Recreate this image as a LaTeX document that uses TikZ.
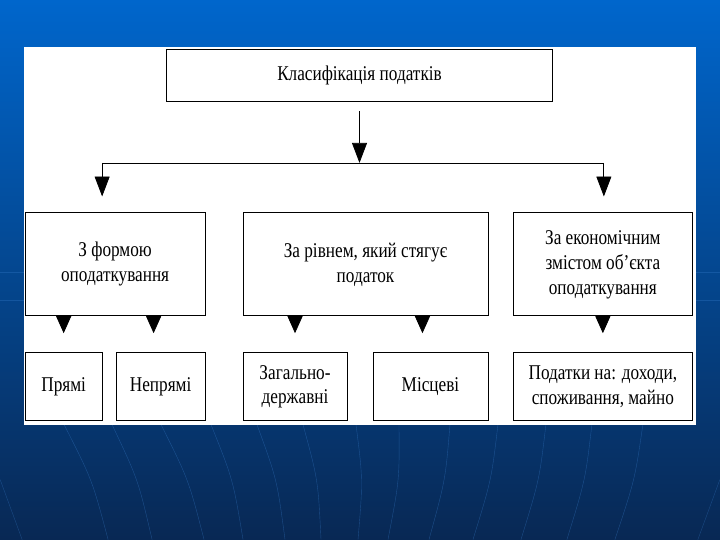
\documentclass[tikz,border=0pt]{standalone}
\usepackage{fontspec}
\setmainfont[FakeStretch=0.82]{Liberation Serif}
\usetikzlibrary{arrows.meta}

\definecolor{slidetop}{RGB}{0,102,204}
\definecolor{slidemid}{RGB}{0,74,150}
\definecolor{slidebot}{RGB}{8,40,84}
\definecolor{slideline}{RGB}{60,130,210}

\tikzset{
	box/.style={draw=black, line width=0.8pt, fill=white, align=center,
		inner sep=0pt, font=\fontsize{21}{25}\selectfont},
	arr/.style={-{Triangle[width=15pt,length=20pt]}, line width=0.8pt},
	tip/.style={-{Triangle[width=15pt,length=17pt]}, line width=0.8pt}
}

\begin{document}
\begin{tikzpicture}[x=1pt,y=-1pt]
		% slide background
		\fill[top color=slidetop, middle color=slidemid, bottom color=slidebot] (0,0) rectangle (720,540);
		\draw[slideline, opacity=0.3] (0,272) -- (720,272) (0,300) -- (720,300);
		\foreach \a/\b in {64/108, 112/152, 161/204, 211/243, 257/285, 303/321, 356/358,
			399/388, 450/429, 498/473, 546/521, 592/567, 643/615}
			\draw[slideline, opacity=0.4] (\a,425) .. controls ({(\a+\b)/2+6},480) .. (\b,540);
		\draw[slideline, opacity=0.35] (0,480) -- (22,540) (720,480) -- (698,540);
		\fill[white] (24,47) rectangle (696,425);

		% boxes
		\node[box, minimum width=387pt, minimum height=52pt] (klas) at (359.5,75) {Класифікація податків};
		\node[box, minimum width=180pt, minimum height=103pt] (forma) at (115,264.5) {З формою\\оподаткування};
		\node[box, minimum width=245pt, minimum height=103pt] (riven) at (365.5,264.5) {За рівнем, який стягує\\податок};
		\node[box, minimum width=180pt, minimum height=103pt] (zmist) at (603,264.5) {За економічним\\змістом об’єкта\\оподаткування};
		\node[box, minimum width=77pt, minimum height=68pt] (pryami) at (63.5,387) {Прямі};
		\node[box, minimum width=89pt, minimum height=68pt] (nepryami) at (160.5,387) {Непрямі};
		\node[box, minimum width=104pt, minimum height=68pt] (zahal) at (295,387) {Загально-\\державні};
		\node[box, minimum width=115pt, minimum height=68pt] (mists) at (430.5,387) {Місцеві};
		\node[box, minimum width=180pt, minimum height=68pt] (podatky) at (603,387) {Податки на: доходи,\\споживання, майно};

		% connectors
		\coordinate (hl) at (102,163);
		\coordinate (hr) at (604,163);
		\draw[arr] ([yshift=-10pt]klas.south) -- (klas.south |- hl);
		\draw[line width=0.8pt] (hl) -- (hr);
		\draw[arr] (hl) -- ([yshift=16pt]forma.north -| hl);
		\draw[arr] (hr) -- ([yshift=16pt]zmist.north -| hr);
		\draw[tip] (forma.south -| pryami) -- ++(0,17);
		\draw[tip] ([xshift=-7pt]forma.south -| nepryami) -- ++(0,17);
		\draw[tip] (riven.south -| zahal) -- ++(0,17);
		\draw[tip] ([xshift=-8pt]riven.south -| mists) -- ++(0,17);
		\draw[tip] (zmist.south -| podatky) -- ++(0,17);
	\end{tikzpicture}
\end{document}
